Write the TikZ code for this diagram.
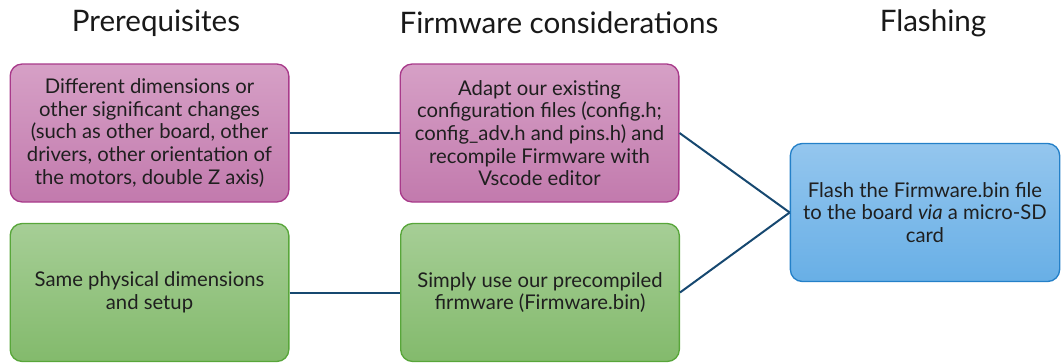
\documentclass[tikz,border=0pt]{standalone}
\usepackage{fontspec}
\setmainfont{Lato}
\definecolor{pinktop}{RGB}{214,160,198}
\definecolor{pinkbot}{RGB}{194,122,173}
\definecolor{pinkline}{RGB}{168,58,138}
\definecolor{greentop}{RGB}{166,206,150}
\definecolor{greenbot}{RGB}{131,186,108}
\definecolor{greenline}{RGB}{88,166,58}
\definecolor{bluetop}{RGB}{148,198,238}
\definecolor{bluebot}{RGB}{104,175,230}
\definecolor{blueline}{RGB}{36,128,200}
\definecolor{linkcol}{RGB}{22,72,112}
\tikzset{
  card/.style={rectangle, rounded corners=9pt, line width=1pt, align=center,
    minimum width=209pt, minimum height=103.5pt, inner sep=2pt,
    font=\fontsize{15.2}{17}\selectfont, text=black!88},
  pinkcard/.style={card, draw=pinkline, top color=pinktop, bottom color=pinkbot},
  greencard/.style={card, draw=greenline, top color=greentop, bottom color=greenbot},
  bluecard/.style={card, draw=blueline, top color=bluetop, bottom color=bluebot,
    minimum width=202pt},
  heading/.style={font=\fontsize{22.2}{26}\selectfont, text=black!90, inner sep=0pt},
  link/.style={draw=linkcol, line width=1.5pt}
}
\begin{document}
\begin{tikzpicture}[x=0.75pt,y=-0.75pt]
\useasboundingbox (0,0) rectangle (1061,364);

% column headings
\node[heading] (h1) at (156,23) {Prerequisites};
\node[heading] (h2) at (559,23) {Firmware considerations};
\node[heading] (h3) at (933,23) {Flashing};

% boxes
\node[pinkcard] (diff) at (149.5,133) {Different dimensions or\\other significant changes\\(such as other board, other\\drivers, other orientation of\\the motors, double Z axis)};
\node[pinkcard] (adapt) at (539.5,133) {Adapt our existing\\configuration files (config.h;\\config\_adv.h and pins.h) and\\recompile Firmware with\\Vscode editor};
\node[greencard] (same) at (149.5,292.5) {Same physical dimensions\\and setup};
\node[greencard] (simple) at (540,292.5) {Simply use our precompiled\\firmware (Firmware.bin)};
\node[bluecard] (flash) at (925,212.5) {Flash the Firmware.bin file\\to the board \textit{via} a micro-SD\\card};

% connectors
\draw[link] (diff.east) -- (adapt.west);
\draw[link] (same.east) -- (simple.west);
\draw[link] (adapt.east) -- (flash.west);
\draw[link] (simple.east) -- (flash.west);
\end{tikzpicture}
\end{document}
